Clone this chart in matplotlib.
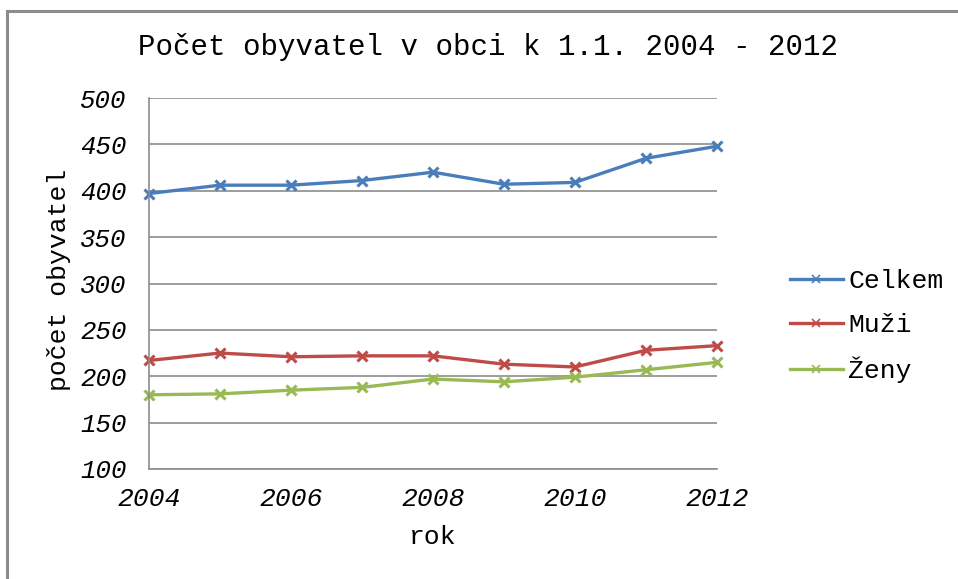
import matplotlib
matplotlib.use("Agg")
import matplotlib.pyplot as plt
from matplotlib.lines import Line2D

years = [2004, 2005, 2006, 2007, 2008, 2009, 2010, 2011, 2012]
celkem = [397, 406, 406, 411, 420, 407, 409, 435, 448]
muzi = [217, 225, 221, 222, 222, 213, 210, 228, 233]
zeny = [180, 181, 185, 188, 197, 194, 199, 207, 215]

series_names = ["Celkem", "Muži", "Ženy"]
series_colors = ["#4A7EBB", "#BE4B48", "#98B954"]

x_ticks = [2004, 2006, 2008, 2010, 2012]
y_ticks = [100, 150, 200, 250, 300, 350, 400, 450, 500]

MONO = "Liberation Mono"
FS = 19

W, H = 958, 579
fig = plt.figure(figsize=(W / 100, H / 100), dpi=100)
ax = fig.add_axes([149 / W, 1 - 469 / H, (717 - 149) / W, (469 - 98) / H])

for vals, name, col in zip([celkem, muzi, zeny], series_names, series_colors):
    ax.plot(years, vals, color=col, lw=2.4, marker="x", ms=7, mew=2.2,
            label=name, clip_on=False)

ax.set_xlim(2004, 2012)
ax.set_ylim(100, 500)
ax.set_xticks(x_ticks)
ax.set_yticks(y_ticks)
ax.set_xticklabels([str(t) for t in x_ticks], family=MONO, style="italic", fontsize=FS)
ax.set_yticklabels([str(t) for t in y_ticks], family=MONO, style="italic", fontsize=18.5)
ax.tick_params(length=0)
ax.tick_params(axis="y", pad=16)
ax.tick_params(axis="x", pad=13)

ax.grid(axis="y", color="#8c8c8c", lw=1.2)
ax.set_axisbelow(True)
for s in ["top", "right"]:
    ax.spines[s].set_visible(False)
for s in ["left", "bottom"]:
    ax.spines[s].set_color("#8c8c8c")
    ax.spines[s].set_linewidth(1.2)

ax.set_ylabel("počet obyvatel", family=MONO, fontsize=FS)
ax.set_xlabel("rok", family=MONO, fontsize=FS)
ax.yaxis.set_label_coords(-0.137, 0.51)
ax.xaxis.set_label_coords(0.5, -0.152)

fig.text(488 / W, 1 - 47 / H, "Počet obyvatel v obci k 1.1. 2004 - 2012",
         family=MONO, fontsize=21, ha="center", va="center")

handles = [Line2D([0], [0], color=c, lw=2.4, marker="x", ms=6, mew=1.2) for c in series_colors]
fig.legend(handles, series_names, loc="center left",
           bbox_to_anchor=(790 / W, 1 - 326 / H), frameon=False,
           prop={"family": MONO, "size": FS}, handlelength=2.0,
           handletextpad=0.2, labelspacing=0.75, borderpad=0, borderaxespad=0)

# outer chart frame
fig.add_artist(Line2D([7 / W, 7 / W], [0, 1 - 11 / H], color="#8c8c8c", lw=2.2,
                      transform=fig.transFigure))
fig.add_artist(Line2D([7 / W, 1], [1 - 11 / H, 1 - 11 / H], color="#8c8c8c", lw=2.2,
                      transform=fig.transFigure))

fig.savefig("out.png", dpi=100)
